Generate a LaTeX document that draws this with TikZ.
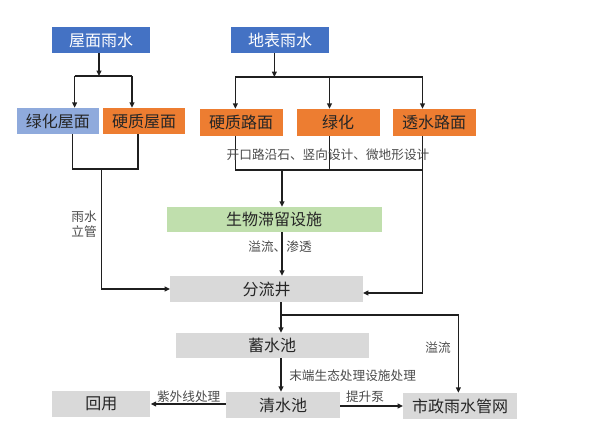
\documentclass[tikz,border=0pt]{standalone}
\usepackage{fontspec}
\setmainfont{Noto Sans CJK SC}
\usetikzlibrary{arrows.meta}
\definecolor{cblue}{HTML}{4472C4}
\definecolor{clblue}{HTML}{8FAADC}
\definecolor{corange}{HTML}{ED7D31}
\definecolor{cgreen}{HTML}{C0DFAD}
\definecolor{cgray}{HTML}{D9D9D9}
\definecolor{cline}{HTML}{1F1F1F}
\definecolor{ctext}{HTML}{262626}
\definecolor{clabel}{HTML}{4A4A4A}
\tikzset{
  box/.style={draw=none, inner sep=0pt, minimum height=19.5pt, font=\fontsize{12}{14}\selectfont, text=ctext},
  bluebox/.style={box, fill=cblue, text=white, minimum width=73.5pt},
  roofbox/.style={box, minimum width=61.5pt},
  roadbox/.style={box, fill=corange, minimum width=62.25pt, minimum height=20.25pt},
  graybox/.style={box, fill=cgray},
  lbl/.style={font=\fontsize{9.5}{11}\selectfont, text=clabel, inner sep=0pt},
  conn/.style={draw=cline, line width=0.9pt},
  arr/.style={conn, -{Triangle[length=4pt,width=3.6pt]}}
}
\begin{document}
\begin{tikzpicture}[x=0.75pt,y=-0.75pt]
\useasboundingbox (0,0) rectangle (600,440);
% boxes
\node[bluebox] (roofRain) at (101,40) {屋面雨水};
\node[bluebox] (surfRain) at (280,40) {地表雨水};
\node[roofbox, fill=clblue] (greenRoof) at (58,121) {绿化屋面};
\node[roofbox, fill=corange] (hardRoof) at (144,121) {硬质屋面};
\node[roadbox] (hardRoad) at (241,122.5) {硬质路面};
\node[roadbox] (green) at (338,122.5) {绿化};
\node[roadbox] (permRoad) at (434,122.5) {透水路面};
\node[box, fill=cgreen, minimum width=161.25pt, minimum height=18.75pt] (bio) at (274,219.5) {生物滞留设施};
\node[graybox, minimum width=144.4pt] (split) at (266.5,289) {分流井};
\node[graybox, minimum width=144.75pt, minimum height=18.75pt] (store) at (272,345.5) {蓄水池};
\node[graybox, minimum width=85.5pt] (clear) at (283,405) {清水池};
\node[graybox, minimum width=73.5pt] (reuse) at (101.4,404) {回用};
\node[graybox, minimum width=85.2pt] (muni) at (460,406) {市政雨水管网};
% junction coordinates
\coordinate (j1) at (99,76);
\coordinate (j1l) at (74.6,76);
\coordinate (j1r) at (132,76);
\coordinate (j2) at (274.4,77);
\coordinate (j2l) at (235.4,77);
\coordinate (j2m) at (329.5,77);
\coordinate (j2r) at (422.5,77);
\coordinate (k1l) at (72.7,169);
\coordinate (k1r) at (138,169);
\coordinate (k1) at (101.4,169);
\coordinate (k1b) at (101.4,289);
\coordinate (k2l) at (235.4,170);
\coordinate (k2m) at (329.5,170);
\coordinate (k2r) at (422.5,170);
\coordinate (k2) at (282,170);
\coordinate (k2b) at (422.5,293);
\coordinate (m1) at (281,315);
\coordinate (m1r) at (458.4,315);
% roof rain
\draw[arr] (roofRain.south -| j1) -- (j1);
\draw[conn] (j1l) -- (j1r);
\draw[arr] (j1l) -- (j1l |- greenRoof.north);
\draw[arr] (j1r) -- (j1r |- hardRoof.north);
% surface rain
\draw[arr] (surfRain.south -| j2) -- (j2);
\draw[conn] (j2l) -- (j2r);
\draw[arr] (j2l) -- (j2l |- hardRoad.north);
\draw[arr] (j2m) -- (j2m |- green.north);
\draw[arr] (j2r) -- (j2r |- permRoad.north);
% roof collection
\draw[conn] (greenRoof.south -| k1l) -- (k1l) -- (k1r) -- (hardRoof.south -| k1r);
\draw[arr] (k1) -- (k1b) -- (split.west);
\node[lbl, align=center] (pipe) at (84,224) {雨水\\立管};
% road collection
\draw[conn] (hardRoad.south -| k2l) -- (k2l) -- (k2r);
\draw[conn] (green.south -| k2m) -- (k2m);
\draw[arr] (permRoad.south -| k2r) -- (k2b) -- (k2b -| split.east);
\node[lbl] (design) at (328,155) {开口路沿石、竖向设计、微地形设计};
\draw[arr] (k2) -- (k2 |- bio.north);
% bio to split
\draw[arr] (bio.south -| k2) -- (k2 |- split.north);
\node[lbl] (overinf) at (280,247) {溢流、渗透};
% split to store and muni
\draw[arr] (split.south -| m1) -- (m1 |- store.north);
\draw[arr] (m1) -- (m1r) -- (m1r |- muni.north);
\node[lbl] (overflow) at (438,348) {溢流};
% store to clear
\draw[arr] (store.south -| m1) -- (m1 |- clear.north);
\node[lbl, anchor=west] (endtreat) at (289,376) {末端生态处理设施处理};
% clear to reuse and muni
\draw[arr] (clear.west |- 0,404) -- (reuse.east |- 0,404);
\node[lbl] (uv) at (188.7,397) {紫外线处理};
\draw[arr] (clear.east |- 0,406) -- (muni.west |- 0,406);
\node[lbl] (pump) at (365,397) {提升泵};
\end{tikzpicture}
\end{document}
